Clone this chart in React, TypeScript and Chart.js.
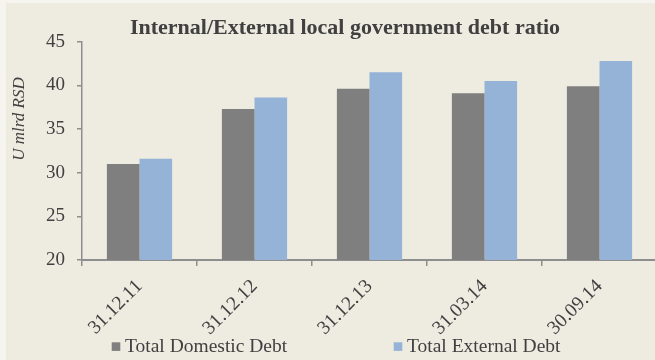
import React, { useEffect, useRef } from "react";
import { Chart, registerables } from "chart.js";

Chart.register(...registerables);

const categories = ["31.12.11", "31.12.12", "31.12.13", "31.03.14", "30.09.14"];
const domesticDebt = [31.0, 37.3, 39.6, 39.1, 39.9];
const externalDebt = [31.6, 38.6, 41.5, 40.5, 42.8];
const seriesNames = ["Total Domestic Debt", "Total External Debt"];
const seriesColors = ["#7F7F7F", "#95B3D7"];
const yMin = 20;
const yMax = 45;
const yStep = 5;
const chartTitle = "Internal/External local government debt ratio";
const yAxisTitle = "U mlrd RSD";

const TEXT = "#404040";
const AXIS = "#8E8E8E";
const BG = "#EEEBE0";
const OUTER = "#F5F4EF";
const FONT = "'Liberation Serif', 'Times New Roman', serif";

const decorPlugin = {
  id: "decor",
  afterDraw(chart: any) {
    const ctx = chart.ctx;
    ctx.save();
    // title
    ctx.fillStyle = TEXT;
    ctx.font = `bold 22px ${FONT}`;
    ctx.textAlign = "center";
    ctx.textBaseline = "alphabetic";
    ctx.fillText(chartTitle, 339, 30.5);
    // y axis title
    ctx.save();
    ctx.translate(14, 116);
    ctx.rotate(-Math.PI / 2);
    ctx.font = `italic 17px ${FONT}`;
    ctx.textAlign = "center";
    ctx.textBaseline = "middle";
    ctx.fillText(yAxisTitle, 0, 0);
    ctx.restore();
    // legend
    const items = chart.data.datasets.map((d: any) => ({ text: d.label, color: d.backgroundColor }));
    const xs = [105.7, 387.7];
    ctx.font = `19.5px ${FONT}`;
    ctx.textAlign = "left";
    ctx.textBaseline = "middle";
    items.forEach((it: any, i: number) => {
      ctx.fillStyle = it.color;
      ctx.fillRect(xs[i], 339.3, 8.6, 8.6);
      ctx.fillStyle = TEXT;
      ctx.fillText(it.text, xs[i] + 13.3, 343.6);
    });
    ctx.restore();
  },
};

export default function App() {
  const ref = useRef<HTMLCanvasElement | null>(null);
  useEffect(() => {
    if (!ref.current) return;
    const chart = new Chart(ref.current, {
      type: "bar",
      data: {
        labels: categories,
        datasets: [
          { label: seriesNames[0], data: domesticDebt, backgroundColor: seriesColors[0], borderWidth: 0 },
          { label: seriesNames[1], data: externalDebt, backgroundColor: seriesColors[1], borderWidth: 0 },
        ],
      },
      options: {
        responsive: false,
        animation: false,
        devicePixelRatio: 1,
        layout: { padding: { top: 38.7, right: 9, left: 0, bottom: 0 } },
        datasets: { bar: { barPercentage: 1, categoryPercentage: 0.567 } },
        plugins: {
          legend: { display: false },
          title: { display: false },
          tooltip: { enabled: false },
        },
        scales: {
          x: {
            afterFit: (s: any) => { s.height = 100; },
            grid: { display: true, drawOnChartArea: false, drawTicks: true, tickLength: 6, color: AXIS, lineWidth: 1.5, offset: true },
            border: { display: true, color: AXIS, width: 2 },
            ticks: {
              color: TEXT,
              font: { family: FONT, size: 19.5 },
              minRotation: 45,
              maxRotation: 45,
              autoSkip: false,
              padding: 9,
            },
          },
          y: {
            min: yMin,
            max: yMax,
            afterFit: (s: any) => { s.width = 76; },
            grid: { display: true, drawOnChartArea: false, drawTicks: true, tickLength: 5, color: AXIS, lineWidth: 1.5 },
            border: { display: true, color: AXIS, width: 1.5 },
            ticks: {
              stepSize: yStep,
              color: TEXT,
              font: { family: FONT, size: 19 },
              padding: 12,
            },
          },
        },
      },
      plugins: [decorPlugin],
    });
    return () => chart.destroy();
  }, []);
  return (
    <div style={{ position: "fixed", left: 0, top: 0, width: 655, height: 360, background: OUTER, overflow: "hidden" }}>
      <div style={{ position: "absolute", left: 6, top: 3, width: 660, height: 357, background: BG }}>
        <canvas ref={ref} width={660} height={357} style={{ display: "block", width: 660, height: 357 }} />
      </div>
    </div>
  );
}
